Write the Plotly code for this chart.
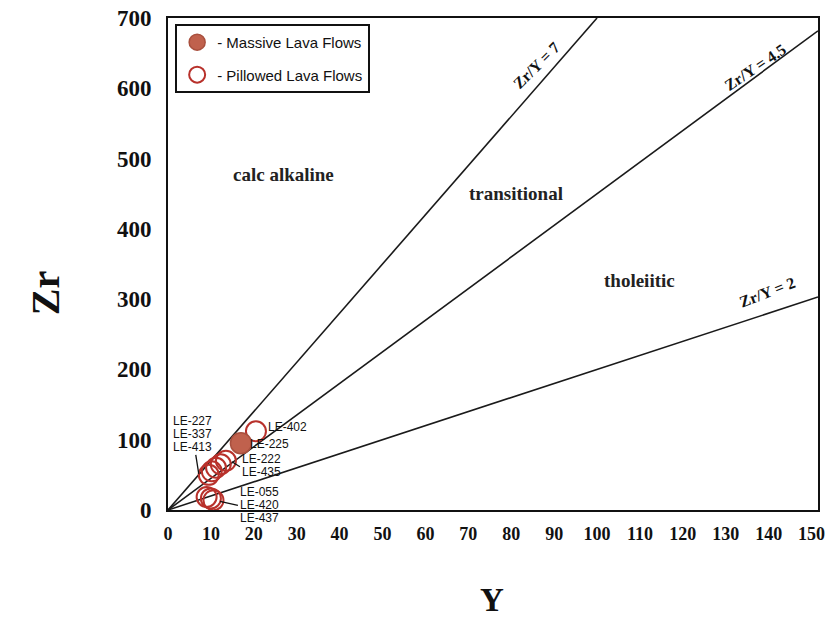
import plotly.graph_objects as go

# Zr vs Y discrimination diagram for lava flow samples
massive_ids = ["LE-225"]
massive_y = [17.0]
massive_zr = [95.0]

pillow_ids = ["LE-402", "LE-435", "LE-222", "LE-337", "LE-227", "LE-413",
              "LE-055", "LE-420", "LE-437"]
pillow_y = [20.5, 13.5, 12.3, 11.2, 10.2, 9.5, 9.0, 10.0, 10.6]
pillow_zr = [112.0, 70.0, 65.0, 60.0, 55.0, 50.0, 18.5, 16.5, 14.0]

ratio_values = [7, 4.5, 2]
ratio_labels = ["Zr/Y = 7", "Zr/Y = 4.5", "Zr/Y = 2"]
x_ticks = list(range(0, 151, 10))
y_ticks = list(range(0, 701, 100))
x_max, y_max = 151.5, 700

field_names = ["calc alkaline", "transitional", "tholeiitic"]

serif = "Liberation Serif, Times New Roman, serif"
sans = "Liberation Sans, Arial, sans-serif"
fill_col = "#c0614d"
ring_col = "#b8312b"

fig = go.Figure()

# Constant-ratio reference lines from the origin to the frame
for r in ratio_values:
    xe = min(x_max, y_max / r)
    fig.add_trace(go.Scatter(x=[0, xe], y=[0, r * xe], mode="lines",
                             line=dict(color="#1a1a1a", width=1.6),
                             showlegend=False, hoverinfo="skip"))

fig.add_trace(go.Scatter(
    x=pillow_y, y=pillow_zr, mode="markers", name="- Pillowed Lava Flows",
    text=pillow_ids, legendgroup="b", legendrank=2,
    marker=dict(symbol="circle-open", size=20, color=ring_col,
                line=dict(width=2, color=ring_col))))

fig.add_trace(go.Scatter(
    x=massive_y, y=massive_zr, mode="markers", name="- Massive Lava Flows",
    text=massive_ids, legendgroup="a", legendrank=1,
    marker=dict(symbol="circle", size=21, color=fill_col,
                line=dict(width=1.5, color="#a9503e"))))

ann = []
shapes = []

# Ratio line labels
ratio_pos = [(85.8, 633, -45), (136.8, 630, -34), (139.5, 310, -21)]
for lab, (ax_, ay_, ang) in zip(ratio_labels, ratio_pos):
    ann.append(dict(x=ax_, y=ay_, text="<b>%s</b>" % lab, showarrow=False,
                    textangle=ang, xanchor="center", yanchor="middle",
                    font=dict(family=serif, size=16, color="#111"),
                    xref="x", yref="y"))

# Field names
field_pos = [(27.0, 478), (81.0, 450), (110.0, 326)]
for lab, (fx, fy) in zip(field_names, field_pos):
    ann.append(dict(x=fx, y=fy, text="<b>%s</b>" % lab, showarrow=False,
                    xanchor="center", yanchor="middle",
                    font=dict(family=serif, size=19, color="#222"),
                    xref="x", yref="y"))

lab_font = dict(family=sans, size=12, color="#111")
pid = {k: i for i, k in enumerate(pillow_ids)}


def pt(sid):
    if sid in pid:
        return pillow_y[pid[sid]], pillow_zr[pid[sid]]
    j = massive_ids.index(sid)
    return massive_y[j], massive_zr[j]


def label(anchor, text, dx, dy):
    x, y = pt(anchor)
    ann.append(dict(x=x, y=y, text=text, showarrow=False, xanchor="left",
                    yanchor="middle", xshift=dx, yshift=dy, font=lab_font,
                    borderpad=0))


def leader(anchor, x0, y0, x1, y1):
    x, y = pt(anchor)
    shapes.append(dict(type="line", xref="x", yref="y", xsizemode="pixel",
                       ysizemode="pixel", xanchor=x, yanchor=y,
                       x0=x0, y0=y0, x1=x1, y1=y1,
                       line=dict(color="#111", width=1.3)))


# Sample labels (pixel offsets from the anchoring sample)
label("LE-402", "LE-402", 11, 4)
label("LE-225", "LE-225", 8, -1)

label("LE-435", "LE-222", 15, 2)
label("LE-435", "LE-435", 15, -11)
leader("LE-435", 6, -1, 14, -6)

label("LE-413", "LE-227", -37, 54)
label("LE-413", "LE-337", -37, 41)
label("LE-413", "LE-413", -37, 28)
leader("LE-413", -13, 20, -10, 1)

label("LE-420", "LE-055", 28, 6)
label("LE-420", "LE-420", 28, -7)
label("LE-420", "LE-437", 28, -20)
leader("LE-420", 9, -3, 27, -7)

# Axis titles
ann.append(dict(xref="paper", yref="paper", x=0.498, y=-0.182, text="<b>Y</b>",
                showarrow=False, xanchor="center", yanchor="middle",
                font=dict(family=serif, size=33, color="#111")))
ann.append(dict(xref="paper", yref="paper", x=-0.189, y=0.441, text="<b>Zr</b>",
                showarrow=False, textangle=-90, xanchor="center",
                yanchor="middle",
                font=dict(family=serif, size=40, color="#111")))

fig.update_layout(
    width=829, height=621,
    margin=dict(l=168, r=11, t=18, b=111),
    paper_bgcolor="white", plot_bgcolor="white",
    annotations=ann, shapes=shapes,
    showlegend=True,
    legend=dict(x=0.011, y=0.988, xanchor="left", yanchor="top",
                bgcolor="white", bordercolor="#111", borderwidth=2,
                font=dict(family=sans, size=15, color="#111"),
                traceorder="grouped", tracegroupgap=10, itemsizing="trace"),
)
fig.update_xaxes(range=[0, x_max], tickvals=x_ticks,
                 ticktext=["<b>%d</b>" % v for v in x_ticks], showgrid=False,
                 zeroline=False, showline=True, linecolor="#111", linewidth=2,
                 mirror=True, ticks="", ticklabelstandoff=6, automargin=False,
                 tickfont=dict(family=serif, size=18, color="#111"))
fig.update_yaxes(range=[0, y_max], tickvals=y_ticks,
                 ticktext=["<b>%d</b>" % v for v in y_ticks], showgrid=False,
                 zeroline=False, showline=True, linecolor="#111", linewidth=2,
                 mirror=True, ticks="", ticklabelstandoff=10, automargin=False,
                 tickfont=dict(family=serif, size=23, color="#111"))

fig.write_html("out.html")
